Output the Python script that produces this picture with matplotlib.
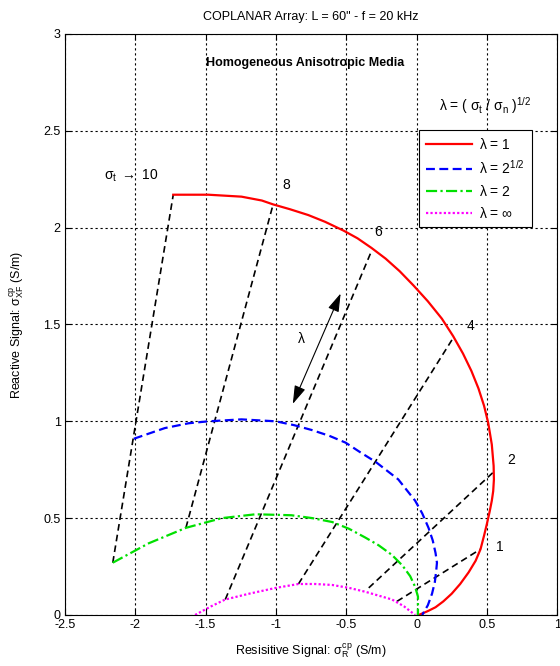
import numpy as np
import matplotlib.pyplot as plt

plt.rcParams['font.family'] = ['Liberation Sans', 'DejaVu Sans']
plt.rcParams['mathtext.fontset'] = 'custom'
plt.rcParams['mathtext.rm'] = 'Liberation Sans'
plt.rcParams['mathtext.it'] = 'Liberation Sans'

# ---- curve data ----
# lambda = 1
red_x = [-1.73, -1.48, -1.245, -1.10, -1.02, -0.90, -0.77, -0.65, -0.52, -0.42, -0.32, -0.22, -0.12,
         -0.02, 0.08, 0.18, 0.26, 0.33, 0.39, 0.44, 0.48, 0.51, 0.535, 0.548, 0.55,
         0.545, 0.535, 0.52, 0.50, 0.48, 0.455, 0.42, 0.37, 0.31, 0.25, 0.19, 0.135,
         0.08, 0.015]
red_y = [2.17, 2.17, 2.16, 2.14, 2.12, 2.095, 2.065, 2.03, 1.985, 1.945, 1.895, 1.84, 1.775,
         1.70, 1.62, 1.53, 1.44, 1.35, 1.26, 1.17, 1.08, 0.99, 0.88, 0.77, 0.70,
         0.64, 0.59, 0.535, 0.47, 0.41, 0.34, 0.28, 0.22, 0.16, 0.11, 0.07, 0.04,
         0.02, 0.0]
# lambda = 2^1/2
blue_x = [-2.01, -1.79, -1.62, -1.48, -1.245, -1.0, -0.87, -0.745, -0.62, -0.505, -0.40, -0.29,
          -0.21, -0.13, -0.07, -0.01, 0.04, 0.085, 0.115, 0.135, 0.145, 0.14, 0.13, 0.11, 0.08, 0.04]
blue_y = [0.91, 0.965, 0.99, 1.0, 1.01, 1.0, 0.98, 0.955, 0.925, 0.89, 0.84, 0.79,
          0.745, 0.70, 0.645, 0.59, 0.525, 0.45, 0.385, 0.32, 0.27, 0.23, 0.17, 0.11, 0.05, 0.0]
# lambda = 2
green_x = [-2.16, -1.905, -1.64, -1.385, -1.145, -0.89, -0.74, -0.60, -0.48, -0.365, -0.27, -0.175,
           -0.10, -0.045, -0.01, 0.01, 0.01]
green_y = [0.27, 0.37, 0.45, 0.50, 0.52, 0.515, 0.50, 0.48, 0.445, 0.40, 0.36, 0.31,
           0.255, 0.20, 0.145, 0.095, 0.0]
# lambda = inf
mag_x = [-1.575, -1.46, -1.36, -1.19, -1.0, -0.84, -0.72, -0.60, -0.48, -0.365, -0.27, -0.175,
         -0.09, -0.01]
mag_y = [0.0, 0.045, 0.08, 0.11, 0.14, 0.16, 0.16, 0.155, 0.14, 0.12, 0.10, 0.08,
         0.045, 0.0]

# constant sigma_t lines (low end -> lambda=1 end)
sig_t = ['10', '8', '6', '4', '2', '1']
line_x0 = [-2.16, -1.64, -1.36, -0.84, -0.34, -0.14]
line_y0 = [0.27, 0.45, 0.08, 0.16, 0.14, 0.07]
line_x1 = [-1.73, -1.02, -0.32, 0.26, 0.55, 0.455]
line_y1 = [2.17, 2.12, 1.88, 1.43, 0.74, 0.34]
lab_x = [-2.03, -0.93, -0.27, 0.38, 0.67, 0.59]
lab_y = [2.27, 2.22, 1.98, 1.49, 0.80, 0.35]

fig = plt.figure(figsize=(5.6, 6.66), dpi=100)
ax = fig.add_axes([0.116, 0.0766, 0.879, 0.8724])

for x0, y0, x1, y1 in zip(line_x0, line_y0, line_x1, line_y1):
    ax.plot([x0, x1], [y0, y1], color='k', ls=(0, (4, 2.5)), lw=1.2)

ax.plot(red_x, red_y, color='red', lw=1.6, label=r'$\lambda$ = 1')
ax.plot(blue_x, blue_y, color='blue', lw=1.6, ls=(0, (4, 2)), label=r'$\lambda$ = 2$^{1/2}$')
ax.plot(green_x, green_y, color='#00e000', lw=1.6, ls=(0, (5, 1.5, 1, 1.5)), label=r'$\lambda$ = 2')
ax.plot(mag_x, mag_y, color='magenta', lw=1.6, ls=(0, (1, 1)), label=r'$\lambda$ = $\infty$')

for t, x, y in zip(sig_t, lab_x, lab_y):
    if t == '10':
        ax.text(x, y, r'$\sigma_t$ $\rightarrow$ 10', fontsize=10, ha='center', va='center')
    else:
        ax.text(x, y, t, fontsize=10, ha='center', va='center')

ax.annotate('', xy=(-0.54, 1.66), xytext=(-0.88, 1.09),
            arrowprops=dict(arrowstyle='<|-|>,head_length=0.8,head_width=0.25', color='k',
                            lw=0.8, mutation_scale=14, shrinkA=0, shrinkB=0))
ax.text(-0.82, 1.43, r'$\lambda$', fontsize=10, ha='center', va='center')

ax.text(-0.79, 2.85, 'Homogeneous Anisotropic Media', fontsize=9, fontweight='bold', ha='center', va='center')
ax.text(0.49, 2.63, r'$\lambda$ = ( $\sigma_t$ / $\sigma_n$ )$^{1/2}$', fontsize=10, ha='center', va='center')

leg = ax.legend(loc='upper left', bbox_to_anchor=(0.72, 0.835), fontsize=10, frameon=True,
                fancybox=False, edgecolor='k', framealpha=1, handlelength=3.3,
                borderpad=0.5, labelspacing=0.5, handletextpad=0.5, borderaxespad=0)
leg.get_frame().set_linewidth(0.8)

ax.set_xlim(-2.5, 1)
ax.set_ylim(0, 3)
ax.set_xticks(np.arange(-2.5, 1.01, 0.5))
ax.set_xticklabels(['-2.5', '-2', '-1.5', '-1', '-0.5', '0', '0.5', '1'])
ax.set_yticks(np.arange(0, 3.01, 0.5))
ax.set_yticklabels(['0', '0.5', '1', '1.5', '2', '2.5', '3'])
ax.tick_params(direction='in', labelsize=9, length=4, top=True, right=True, pad=3)
ax.grid(True, color='k', ls=(0, (2, 2.5)), lw=0.8)

ax.set_title('COPLANAR Array: L = 60" - f = 20 kHz', fontsize=9, pad=10)
ax.set_xlabel(r'Resisitive Signal: $\sigma_R^{cp}$ (S/m)', fontsize=9, labelpad=8)
ax.set_ylabel(r'Reactive Signal: $\sigma_{XF}^{cp}$ (S/m)', fontsize=9, labelpad=12)

fig.savefig('out.png', dpi=100)
